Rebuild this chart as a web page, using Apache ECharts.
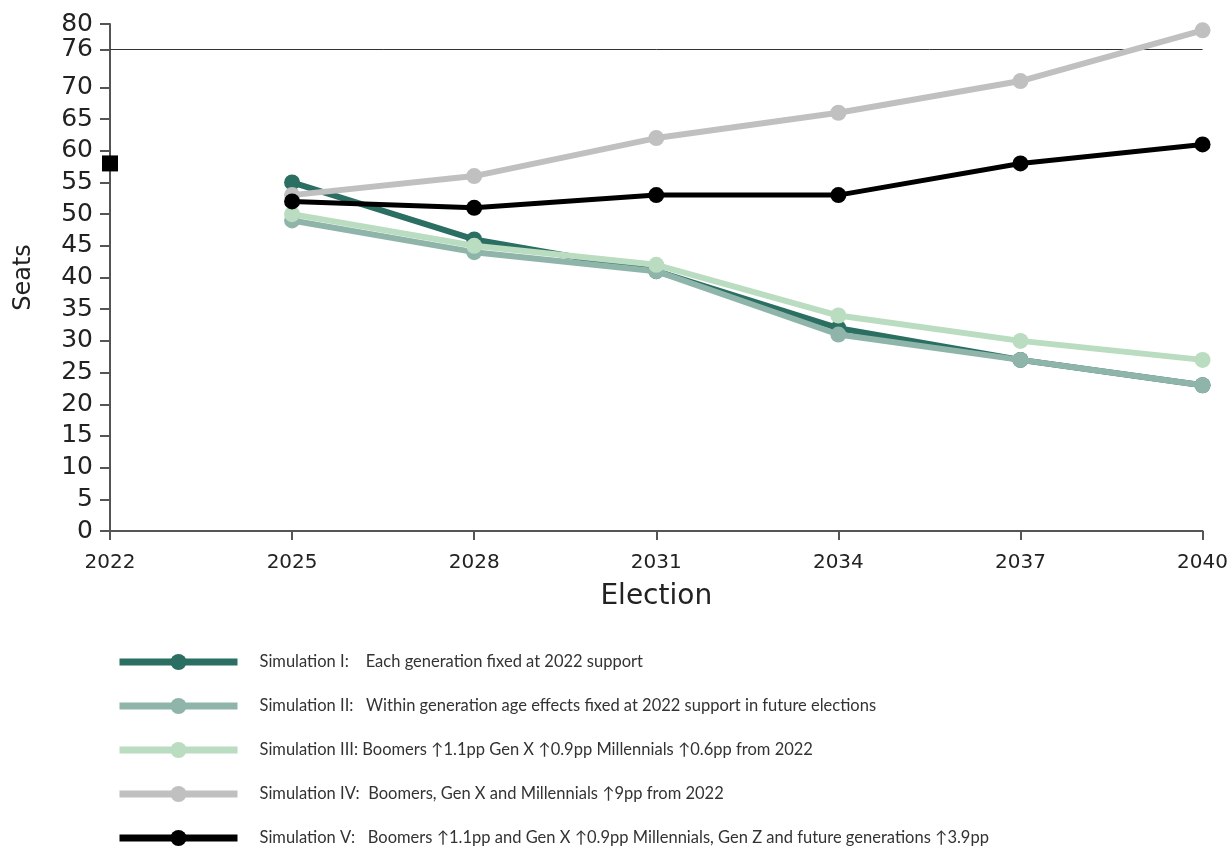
<!DOCTYPE html>
<html>
<head>
<meta charset="utf-8">
<script src="https://cdn.jsdelivr.net/npm/echarts@6/dist/echarts.min.js"></script>
<style>html,body{margin:0;padding:0;background:#fff}#c{width:1231px;height:848px}</style>
</head>
<body>
<div id="c"></div>
<script>
const years = [2025, 2028, 2031, 2034, 2037, 2040];
const simI   = [55, 46, 41, 32, 27, 23];
const simII  = [49, 44, 41, 31, 27, 23];
const simIII = [50, 45, 42, 34, 30, 27];
const simIV  = [53, 56, 62, 66, 71, 79];
const simV   = [52, 51, 53, 53, 58, 61];
const actual2022 = [[2022, 58]];
const majorityLine = 76;
const yTickValues = [0,5,10,15,20,25,30,35,40,45,50,55,60,65,70,76,80];
const names = [
  'Simulation I:    Each generation fixed at 2022 support',
  'Simulation II:   Within generation age effects fixed at 2022 support in future elections',
  'Simulation III: Boomers \u21911.1pp Gen X \u21910.9pp Millennials \u21910.6pp from 2022',
  'Simulation IV:  Boomers, Gen X and Millennials \u21919pp from 2022',
  'Simulation V:   Boomers \u21911.1pp and Gen X \u21910.9pp Millennials, Gen Z and future generations \u21913.9pp'
];
const colors = ['#2b6e62', '#8fb5ab', '#badcc0', '#c0c0c0', '#000000'];
const seriesData = [simI, simII, simIII, simIV, simV];

const chart = echarts.init(document.getElementById('c'), null, {renderer: 'canvas'});
const series = seriesData.map((vals, i) => ({
  name: names[i],
  type: 'line',
  data: vals.map((v, j) => [years[j], v]),
  symbol: 'circle',
  symbolSize: 16,
  lineStyle: {color: colors[i], width: i === 4 ? 5 : 6},
  itemStyle: {color: colors[i]},
  z: 2 + i,
  emphasis: {disabled: true}
}));
series[0].markLine = {
  silent: true,
  symbol: 'none',
  label: {show: false},
  lineStyle: {color: '#333', width: 1, type: 'solid'},
  data: [{yAxis: majorityLine}]
};
series.push({
  name: '2022',
  type: 'scatter',
  data: actual2022,
  symbol: 'rect',
  symbolSize: 16,
  clip: false,
  itemStyle: {color: '#000', opacity: 1},
  z: 10
});

chart.setOption({
  animation: false,
  backgroundColor: '#fff',
  grid: {left: 110, right: 28, top: 24, bottom: 317},
  xAxis: {
    type: 'value', min: 2022, max: 2040, interval: 3,
    name: 'Election', nameLocation: 'middle', nameGap: 52,
    nameTextStyle: {fontSize: 28, color: '#222', fontFamily: 'DejaVu Sans'},
    axisLine: {show: true, lineStyle: {color: '#555', width: 2}},
    axisTick: {show: true, length: 9, lineStyle: {color: '#555', width: 2}},
    axisLabel: {fontSize: 20, color: '#222', margin: 22, fontFamily: 'DejaVu Sans', formatter: v => String(v)},
    splitLine: {show: false}
  },
  yAxis: {
    type: 'value', min: 0, max: 80,
    name: 'Seats', nameLocation: 'middle', nameGap: 74, nameRotate: 90,
    nameTextStyle: {fontSize: 24, color: '#222', fontFamily: 'DejaVu Sans'},
    axisLine: {show: true, lineStyle: {color: '#555', width: 2}},
    axisTick: {show: true, length: 10, lineStyle: {color: '#555', width: 2}, customValues: yTickValues},
    axisLabel: {fontSize: 25, lineHeight: 20, color: '#222', margin: 17, fontFamily: 'DejaVu Sans', customValues: yTickValues, hideOverlap: false},
    splitLine: {show: false}
  },
  legend: {
    data: names,
    orient: 'vertical',
    left: 111, top: 648, height: 215,
    itemWidth: 118, itemHeight: 20, itemGap: 26,
    lineStyle: {width: 7},
    textStyle: {fontSize: 16.5, lineHeight: 18, color: '#333', fontFamily: 'Lato', padding: [0,0,0,17]},
    selectedMode: false
  },
  series: series
});
</script>
</body>
</html>
